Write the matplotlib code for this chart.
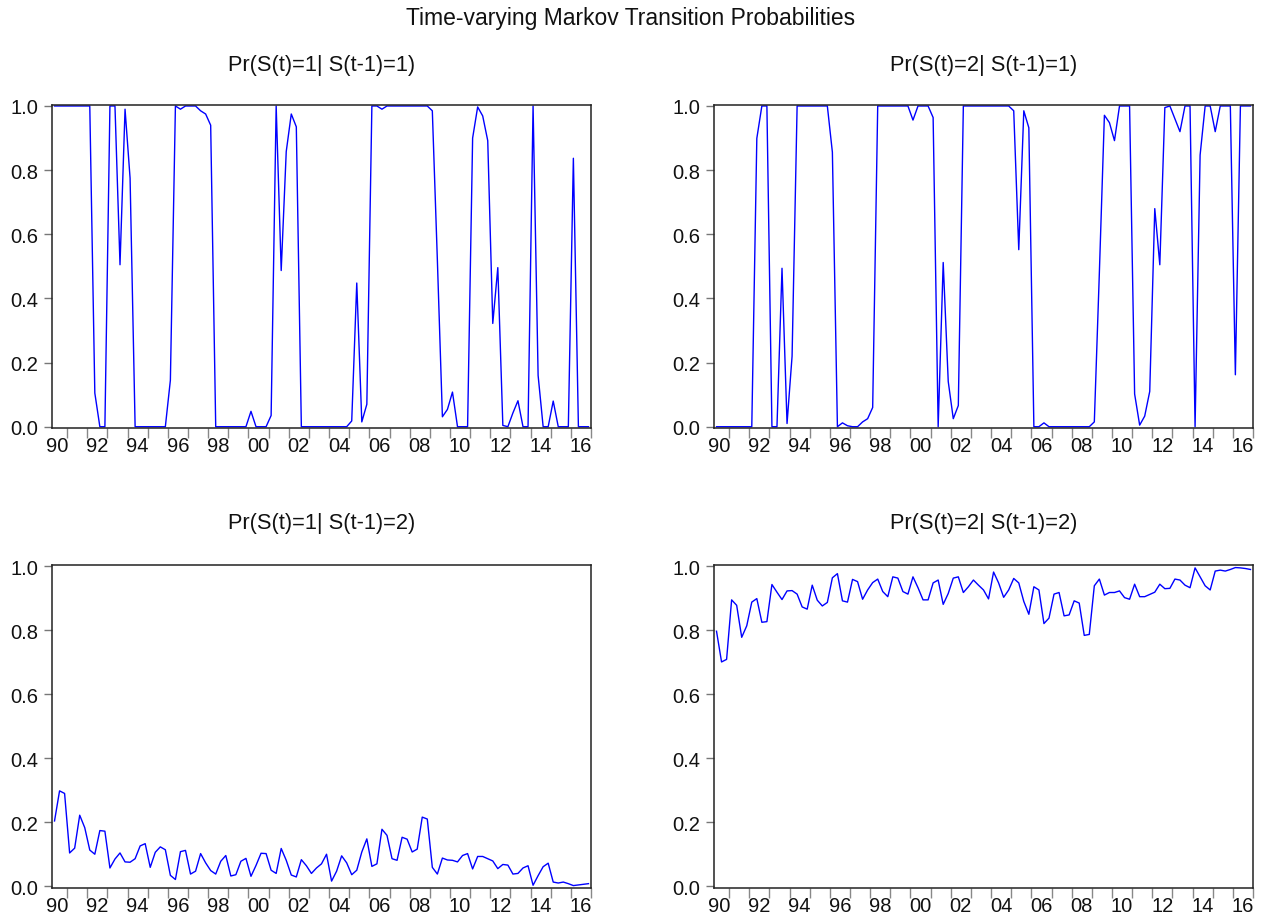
import matplotlib
matplotlib.use("Agg")
import matplotlib.pyplot as plt
import pandas as pd
import numpy as np

plt.rcParams['font.family'] = ['Liberation Sans', 'DejaVu Sans']

# ---------------- data ----------------
periods = pd.period_range('1990Q2', '2016Q4', freq='Q')

main_title = "Time-varying Markov Transition Probabilities"
panel_titles = ["Pr(S(t)=1| S(t-1)=1)", "Pr(S(t)=2| S(t-1)=1)",
                "Pr(S(t)=1| S(t-1)=2)", "Pr(S(t)=2| S(t-1)=2)"]

p11 = [1.0, 1.0, 1.0, 1.0, 1.0, 1.0, 1.0, 1.0, 0.105, 0.0,
       0.0, 1.0, 1.0, 0.505, 0.99, 0.775, 0.0, 0.0, 0.0, 0.0,
       0.0, 0.0, 0.0, 0.145, 1.0, 0.99, 1.0, 1.0, 1.0, 0.985,
       0.975, 0.94, 0.0, 0.0, 0.0, 0.0, 0.0, 0.0, 0.0, 0.048,
       0.0, 0.0, 0.0, 0.035, 1.0, 0.487, 0.858, 0.975, 0.935, 0.0,
       0.0, 0.0, 0.0, 0.0, 0.0, 0.0, 0.0, 0.0, 0.0, 0.018,
       0.448, 0.015, 0.07, 1.0, 1.0, 0.99, 1.0, 1.0, 1.0, 1.0,
       1.0, 1.0, 1.0, 1.0, 1.0, 0.985, 0.52, 0.031, 0.054, 0.108,
       0.0, 0.0, 0.0, 0.9, 0.997, 0.969, 0.892, 0.322, 0.496, 0.004,
       0.0, 0.043, 0.081, 0.0, 0.0, 1.0, 0.16, 0.0, 0.0, 0.08,
       0.0, 0.0, 0.0, 0.837, 0.0, 0.0, 0.0]

p12 = [0.0, 0.0, 0.0, 0.0, 0.0, 0.0, 0.0, 0.0, 0.899, 1.0,
       1.0, 0.0, 0.0, 0.494, 0.01, 0.22, 1.0, 1.0, 1.0, 1.0,
       1.0, 1.0, 1.0, 0.856, 0.0, 0.012, 0.003, 0.0, 0.0, 0.015,
       0.025, 0.06, 1.0, 1.0, 1.0, 1.0, 1.0, 1.0, 1.0, 0.956,
       1.0, 1.0, 1.0, 0.964, 0.0, 0.512, 0.141, 0.025, 0.066, 1.0,
       1.0, 1.0, 1.0, 1.0, 1.0, 1.0, 1.0, 1.0, 1.0, 0.985,
       0.552, 0.985, 0.932, 0.0, 0.0, 0.012, 0.0, 0.0, 0.0, 0.0,
       0.0, 0.0, 0.0, 0.0, 0.0, 0.015, 0.48, 0.971, 0.948, 0.892,
       1.0, 1.0, 1.0, 0.102, 0.005, 0.033, 0.11, 0.68, 0.505, 0.995,
       1.0, 0.96, 0.92, 1.0, 1.0, 0.0, 0.847, 1.0, 1.0, 0.92,
       1.0, 1.0, 1.0, 0.162, 1.0, 1.0, 1.0]

p21 = [0.204, 0.298, 0.29, 0.104, 0.119, 0.222, 0.183, 0.113, 0.10, 0.174,
       0.172, 0.057, 0.085, 0.104, 0.076, 0.075, 0.086, 0.126, 0.133, 0.059,
       0.106, 0.123, 0.114, 0.034, 0.021, 0.108, 0.112, 0.038, 0.047, 0.102,
       0.073, 0.049, 0.038, 0.078, 0.096, 0.032, 0.036, 0.078, 0.087, 0.031,
       0.065, 0.103, 0.102, 0.05, 0.04, 0.118, 0.081, 0.035, 0.029, 0.083,
       0.064, 0.04, 0.057, 0.07, 0.10, 0.016, 0.047, 0.095, 0.073, 0.036,
       0.05, 0.107, 0.148, 0.062, 0.07, 0.178, 0.159, 0.086, 0.081, 0.153,
       0.147, 0.107, 0.116, 0.216, 0.21, 0.059, 0.038, 0.088, 0.082, 0.081,
       0.076, 0.096, 0.102, 0.054, 0.093, 0.093, 0.086, 0.079, 0.055, 0.068,
       0.066, 0.038, 0.04, 0.057, 0.064, 0.003, 0.033, 0.061, 0.072, 0.013,
       0.01, 0.013, 0.008, 0.002, 0.004, 0.006, 0.008]

p22 = [0.797, 0.701, 0.709, 0.895, 0.878, 0.778, 0.814, 0.888, 0.899, 0.825,
       0.827, 0.943, 0.919, 0.896, 0.923, 0.924, 0.913, 0.873, 0.866, 0.941,
       0.894, 0.876, 0.887, 0.964, 0.977, 0.892, 0.888, 0.959, 0.952, 0.897,
       0.926, 0.949, 0.96, 0.921, 0.905, 0.967, 0.963, 0.921, 0.913, 0.967,
       0.933, 0.895, 0.895, 0.948, 0.957, 0.881, 0.915, 0.963, 0.967, 0.918,
       0.936, 0.957, 0.941, 0.926, 0.898, 0.982, 0.948, 0.903, 0.926, 0.962,
       0.948, 0.89, 0.85, 0.936, 0.926, 0.821, 0.838, 0.913, 0.918, 0.845,
       0.848, 0.892, 0.885, 0.784, 0.787, 0.939, 0.96, 0.91, 0.918, 0.918,
       0.923, 0.902, 0.897, 0.944, 0.905, 0.905, 0.912, 0.919, 0.944, 0.93,
       0.931, 0.96, 0.957, 0.941, 0.933, 0.995, 0.967, 0.939, 0.926, 0.985,
       0.988, 0.985, 0.99, 0.996, 0.995, 0.993, 0.99]

series = [p11, p12, p21, p22]

label_years = list(range(1990, 2017, 2))
label_texts = [f"{y % 100:02d}" for y in label_years]
y_ticks = [0.0, 0.2, 0.4, 0.6, 0.8, 1.0]

# ---------------- figure ----------------
W, H = 1262, 920
fig = plt.figure(figsize=(W / 100, H / 100), dpi=100)

# time position: centre of each quarter slot, in years
xpos = np.array([p.year + (p.quarter - 1) / 4 + 0.125 for p in periods])
x_left = xpos[0] - 0.125
x_right = xpos[-1] + 0.125

# axes boxes in pixels: (left, top, right, bottom)
boxes = [(52, 105.7, 591, 429), (714, 105.7, 1253, 429),
         (52, 566, 591, 888.5), (714, 566, 1253, 888.5)]
title_y = [65, 65, 523, 523]

for k, (l, t, r, b) in enumerate(boxes):
    ax = fig.add_axes([l / W, 1 - b / H, (r - l) / W, (b - t) / H])
    ax.plot(xpos, series[k], color='#0000FF', lw=1.0)
    ax.set_xlim(x_left, x_right)
    ax.set_ylim(-0.004, 1.004)
    for s in ax.spines.values():
        s.set_color('#222222')
        s.set_linewidth(1.1)
    ax.set_yticks(y_ticks)
    ax.set_yticklabels([f"{v:.1f}" for v in y_ticks])
    ax.tick_params(axis='y', direction='out', length=6, width=1.0,
                   color='#777777', labelsize=14.5, pad=4, labelcolor='#111111')
    # year-boundary tick marks (minor) and centered labels (major, no mark)
    years = list(range(int(np.ceil(x_left)), int(np.floor(x_right)) + 1))
    ax.set_xticks(years, minor=True)
    ax.set_xticks([y + 0.5 for y in label_years])
    ax.set_xticklabels(label_texts)
    ax.tick_params(axis='x', which='major', length=0, labelsize=14.5, pad=6,
                   labelcolor='#111111')
    ax.tick_params(axis='x', which='minor', direction='out', length=7,
                   width=1.0, color='#888888')
    for yr, tk in zip(years, ax.xaxis.get_minor_ticks()):
        if yr % 2 == 0:
            tk.tick1line.set_color('#333333')
    fig.text((l + r) / 2 / W, 1 - title_y[k] / H, panel_titles[k],
             ha='center', va='center', fontsize=15.7, color='#111111')

fig.text(0.5, 1 - 18 / H, main_title, ha='center', va='center',
         fontsize=16.5, color='#111111')

fig.savefig('out.png', dpi=100)
